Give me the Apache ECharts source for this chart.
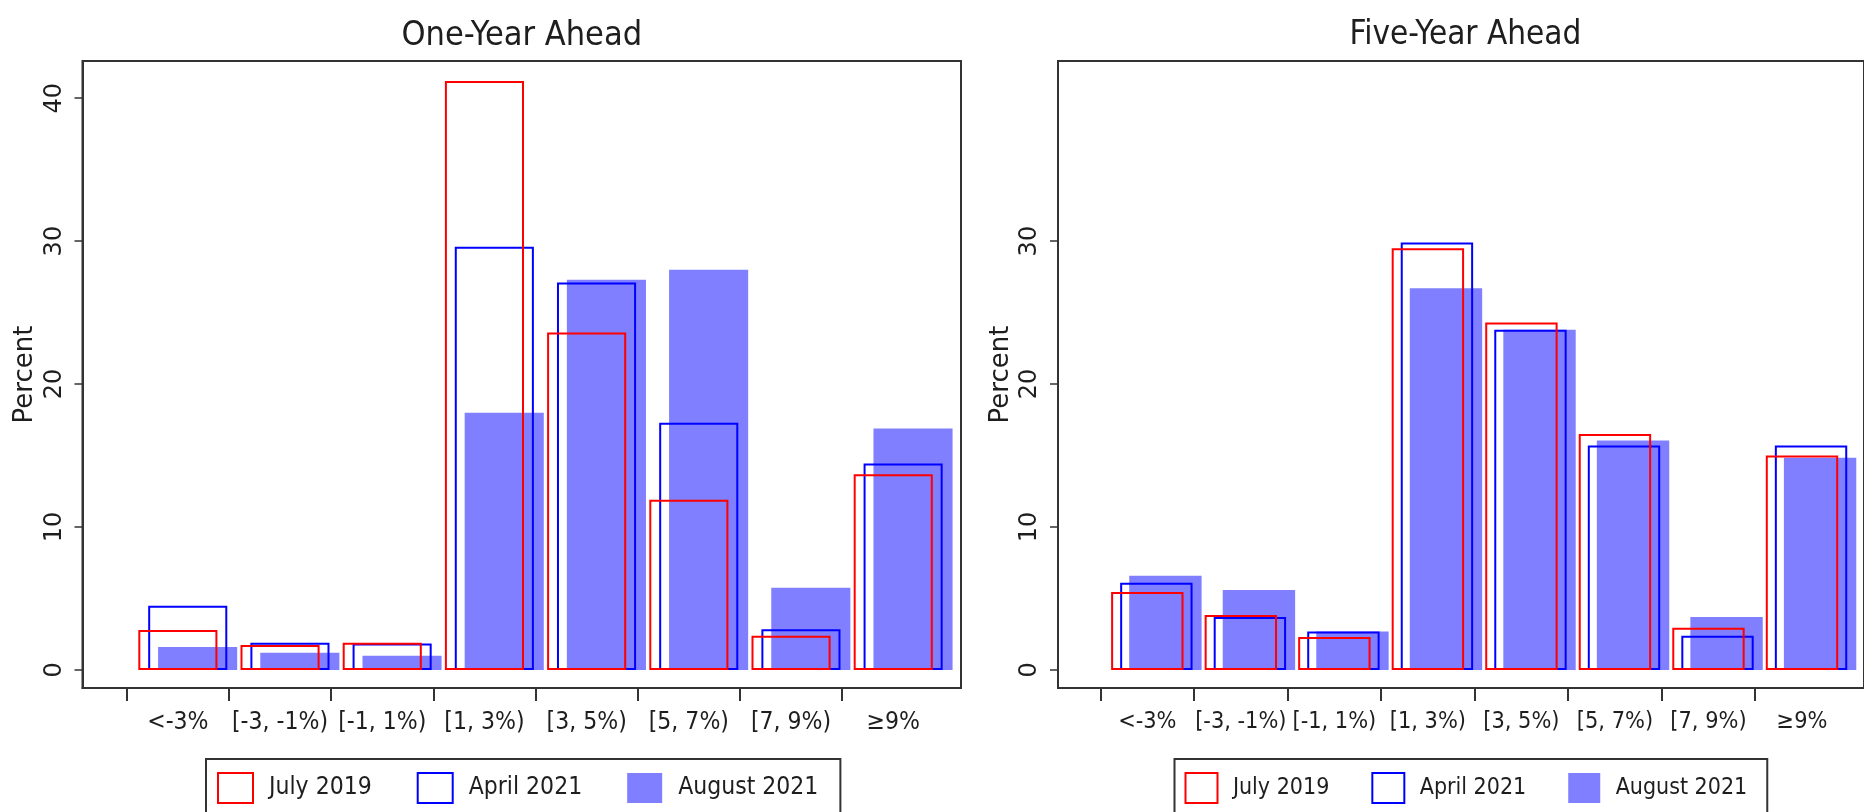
<!DOCTYPE html>
<html><head><meta charset="utf-8">
<script src="https://cdn.jsdelivr.net/npm/echarts@6/dist/echarts.min.js"></script>
<style>html,body{margin:0;padding:0;background:#fff}#c{width:1864px;height:812px}</style>
</head><body><div id="c"></div>
<script>
// ---- data ----
const categories = ['<-3%', '[-3, -1%)', '[-1, 1%)', '[1, 3%)', '[3, 5%)', '[5, 7%)', '[7, 9%)', '≥9%'];
const seriesNames = ['July 2019', 'April 2021', 'August 2021'];
const panelTitles = ['One-Year Ahead', 'Five-Year Ahead'];
const july2019OneYear  = [2.8, 1.75, 1.9, 41.2, 23.6, 11.9, 2.4, 13.7];
const april2021OneYear = [4.5, 1.9, 1.85, 29.6, 27.1, 17.3, 2.85, 14.45];
const aug2021OneYear   = [1.6, 1.2, 1.0, 18.0, 27.3, 28.0, 5.75, 16.9];
const july2019FiveYear  = [5.45, 3.85, 2.3, 29.5, 24.3, 16.5, 2.95, 15.0];
const april2021FiveYear = [6.1, 3.7, 2.7, 29.9, 23.8, 15.7, 2.4, 15.7];
const aug2021FiveYear   = [6.6, 5.6, 2.7, 26.7, 23.8, 16.05, 3.7, 14.85];
const yTicksOneYear = [0, 10, 20, 30, 40];
const yTicksFiveYear = [0, 10, 20, 30];
const yAxisName = 'Percent';

// ---- styling / layout ----
const NARROW = "'DejaVu Sans Condensed','Liberation Sans Narrow',sans-serif";
const WIDE = "'DejaVu Sans',sans-serif";
const RED = '#ff0000', BLUE = '#0000ff', FILL = 'rgba(0,0,255,0.5)';
const AXIS = '#333333', TEXT = '#1e1e1e';

const panels = [
  { left: 82.5, width: 878.5, xMin: -0.933, xMax: 7.663, titleX: 521.75, legendLeft: 206,
    titleSize: 34, catSize: 24.5, legSize: 24.5,
    data: [july2019OneYear, april2021OneYear, aug2021OneYear], yTicks: yTicksOneYear,
    legendPad: [13, 22, 13, 11], itemW: 35, itemGap: 45, textPadL: 11, textW: [105, 108.7, 136.5] },
  { left: 1058, width: 817, xMin: -0.955, xMax: 7.663, titleX: 1465.5, legendLeft: 1174.5,
    titleSize: 33, catSize: 23.3, legSize: 23,
    data: [july2019FiveYear, april2021FiveYear, aug2021FiveYear], yTicks: yTicksFiveYear,
    legendPad: [13, 20, 13, 10], itemW: 32, itemGap: 42, textPadL: 10.4, textW: [97, 99.5, 126.5] }
];
const GRID_TOP = 61, GRID_H = 627;
const Y_MIN = -1.26, Y_MAX = 42.6;
const BAR_W = '77.4%', BAR_GAP = '-87.5%';

const styles = [
  { color: 'rgba(0,0,0,0)', borderColor: RED, borderWidth: 2 },
  { color: 'rgba(0,0,0,0)', borderColor: BLUE, borderWidth: 2 },
  { color: FILL, borderWidth: 0 }
];
const legendStyles = [
  { color: '#ffffff', borderColor: RED, borderWidth: 2 },
  { color: '#ffffff', borderColor: BLUE, borderWidth: 2 },
  { color: FILL, borderWidth: 0 }
];
const zOrder = [5, 4, 3];

const option = {
  animation: false,
  backgroundColor: '#ffffff',
  title: [], grid: [], xAxis: [], yAxis: [], legend: [], series: []
};

panels.forEach((p, pi) => {
  option.title.push({
    text: panelTitles[pi], left: p.titleX, top: 19, textAlign: 'center', padding: 0,
    textStyle: { fontFamily: NARROW, fontSize: p.titleSize, fontWeight: 'normal', color: TEXT }
  });
  option.grid.push({
    left: p.left, top: GRID_TOP, width: p.width, height: GRID_H,
    show: true, borderColor: AXIS, borderWidth: 2, backgroundColor: 'transparent'
  });
  option.xAxis.push({
    type: 'value', gridIndex: pi, min: p.xMin, max: p.xMax,
    axisLine: { show: true, onZero: false, lineStyle: { color: AXIS, width: 2 } },
    axisTick: { show: true, length: 13, customValues: categories.map((c, i) => i - 0.5),
                lineStyle: { color: AXIS, width: 2 } },
    axisLabel: { show: true, customValues: categories.map((c, i) => i), formatter: v => categories[Math.round(v)],
                 fontFamily: NARROW, fontSize: p.catSize, color: TEXT, margin: 22 },
    splitLine: { show: false }
  });
  option.yAxis.push({
    type: 'value', gridIndex: pi, min: Y_MIN, max: Y_MAX,
    name: yAxisName, nameLocation: 'middle', nameRotate: 90, nameGap: 44,
    nameTextStyle: { fontFamily: WIDE, fontSize: 26, color: TEXT },
    axisLine: { show: true, onZero: false, lineStyle: { color: AXIS, width: 2 } },
    axisTick: { show: true, length: 8, customValues: p.yTicks, lineStyle: { color: AXIS, width: 1.5 } },
    axisLabel: { show: true, customValues: p.yTicks, rotate: 90, fontFamily: WIDE, fontSize: 24, color: TEXT, margin: 16 },
    splitLine: { show: false }
  });
  option.legend.push({
    left: p.legendLeft, top: 759, orient: 'horizontal', icon: 'rect',
    padding: p.legendPad, borderColor: AXIS, borderWidth: 2, borderRadius: 0,
    itemWidth: p.itemW, itemHeight: 30, itemGap: p.itemGap,
    textStyle: { fontFamily: NARROW, fontSize: p.legSize, color: TEXT, padding: [0, 0, 0, p.textPadL] },
    data: seriesNames.map((n, k) => ({ name: n, itemStyle: legendStyles[k],
      textStyle: { width: p.textW[k], fontFamily: NARROW, fontSize: p.legSize, color: TEXT, padding: [0, 0, 0, p.textPadL] } }))
  });
  // two empty layout-only series so the first real series is centred on its bin
  ['pad-a-' + pi, 'pad-b-' + pi].forEach(n => option.series.push({
    type: 'bar', name: n, xAxisIndex: pi, yAxisIndex: pi, data: [], barWidth: BAR_W, barGap: BAR_GAP, silent: true
  }));
  seriesNames.forEach((n, k) => option.series.push({
    type: 'bar', name: n, xAxisIndex: pi, yAxisIndex: pi, barWidth: BAR_W, barGap: BAR_GAP, z: zOrder[k],
    itemStyle: styles[k], emphasis: { disabled: true },
    data: categories.map((c, i) => [i, p.data[k][i]])
  }));
});

const chart = echarts.init(document.getElementById('c'), null, { renderer: 'canvas' });
chart.setOption(option);
</script></body></html>
